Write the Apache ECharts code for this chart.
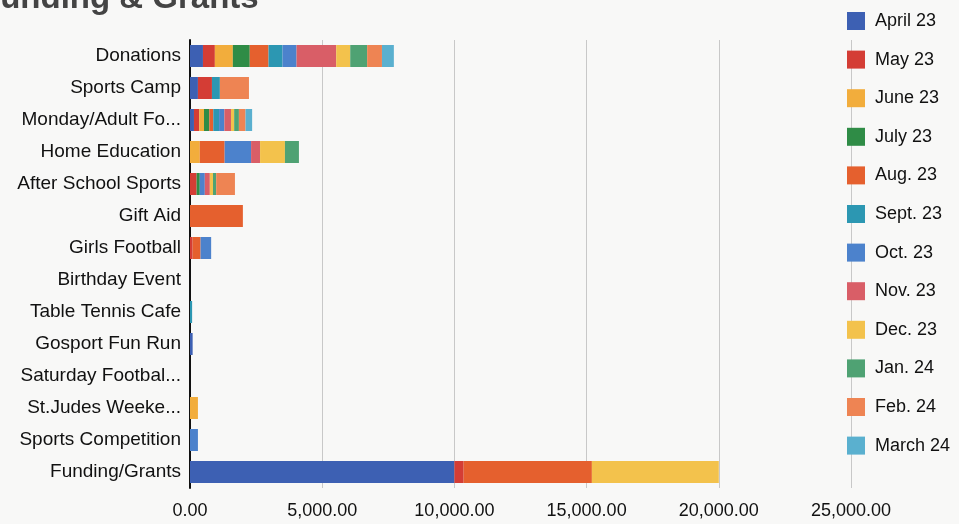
<!DOCTYPE html>
<html><head><meta charset="utf-8">
<script src="https://cdn.jsdelivr.net/npm/echarts@6/dist/echarts.min.js"></script>
<style>html,body{margin:0;padding:0;background:#f8f8f7;}#c{width:959px;height:524px;}</style>
</head><body><div id="c"></div>
<script>
const categories = ["Donations","Sports Camp","Monday/Adult Fo...","Home Education","After School Sports","Gift Aid","Girls Football","Birthday Event","Table Tennis Cafe","Gosport Fun Run","Saturday Footbal...","St.Judes Weeke...","Sports Competition","Funding/Grants"];
const months = ["April 23","May 23","June 23","July 23","Aug. 23","Sept. 23","Oct. 23","Nov. 23","Dec. 23","Jan. 24","Feb. 24","March 24"];
const colors = ["#3d60b3","#d43d35","#f2ad3c","#2f8c46","#e5602e","#2c97b2","#4c82cc","#d95e67","#f3c24c","#4fa273","#ee8453","#5ab0cf"];
// values per month, in category order
const april23 = [490,300,150,0,0,0,0,0,0,100,0,0,0,10000];
const may23   = [450,530,200,0,250,0,100,0,0,0,0,0,0,350];
const june23  = [680,0,180,370,0,0,0,0,0,0,0,300,0,0];
const july23  = [640,0,200,0,120,0,0,0,0,0,0,0,0,0];
const aug23   = [710,0,150,940,0,2000,300,0,0,0,0,0,0,4850];
const sept23  = [530,300,220,0,0,0,0,0,80,0,0,0,0,0];
const oct23   = [530,0,200,1000,190,0,400,0,0,0,0,0,300,0];
const nov23   = [1500,0,250,340,190,0,0,0,0,0,0,0,0,0];
const dec23   = [530,0,120,940,120,0,0,0,0,0,0,0,0,4800];
const jan24   = [640,0,180,530,120,0,0,0,0,0,0,0,0,0];
const feb24   = [560,1100,250,0,710,0,0,0,0,0,0,0,0,0];
const march24 = [450,0,250,0,0,0,0,0,0,0,0,0,0,0];
const seriesValues = [april23,may23,june23,july23,aug23,sept23,oct23,nov23,dec23,jan24,feb24,march24];
const xTicks = [0,5000,10000,15000,20000,25000];

const fmt = v => v.toLocaleString('en-US',{minimumFractionDigits:2,maximumFractionDigits:2});
const FONT = "Liberation Sans";
const chart = echarts.init(document.getElementById('c'));
chart.setOption({
  backgroundColor: '#f8f8f7',
  animation: false,
  textStyle: {fontFamily: FONT},
  title: {text: 'Funding & Grants', left: -25, top: -23,
    textStyle: {fontSize: 33, fontWeight: 'bold', color: '#444', fontFamily: FONT}},
  color: colors,
  legend: {orient: 'vertical', left: 842, top: 7, itemWidth: 18, itemHeight: 18, itemGap: 20.6,
    icon: 'rect', data: months,
    textStyle: {fontSize: 18, color: '#111', fontFamily: FONT, padding: [0,0,0,5]}},
  grid: {left: 190, right: 108, top: 40, bottom: 36, containLabel: false},
  xAxis: {type: 'value', min: xTicks[0], max: xTicks[xTicks.length-1], interval: 5000,
    axisLine: {show: false}, axisTick: {show: false},
    splitLine: {lineStyle: {color: '#c8c8c8', width: 1}},
    axisLabel: {formatter: v => fmt(v), fontSize: 18, color: '#111', margin: 14}},
  yAxis: {type: 'category', data: categories, inverse: true,
    axisLine: {lineStyle: {color: '#111', width: 2}}, axisTick: {show: false},
    axisLabel: {fontSize: 19, color: '#111', margin: 9}},
  series: months.map((m,i) => ({name: m, type: 'bar', stack: 'total', barWidth: 22,
    data: seriesValues[i], itemStyle: {color: colors[i]}}))
});
</script></body></html>
